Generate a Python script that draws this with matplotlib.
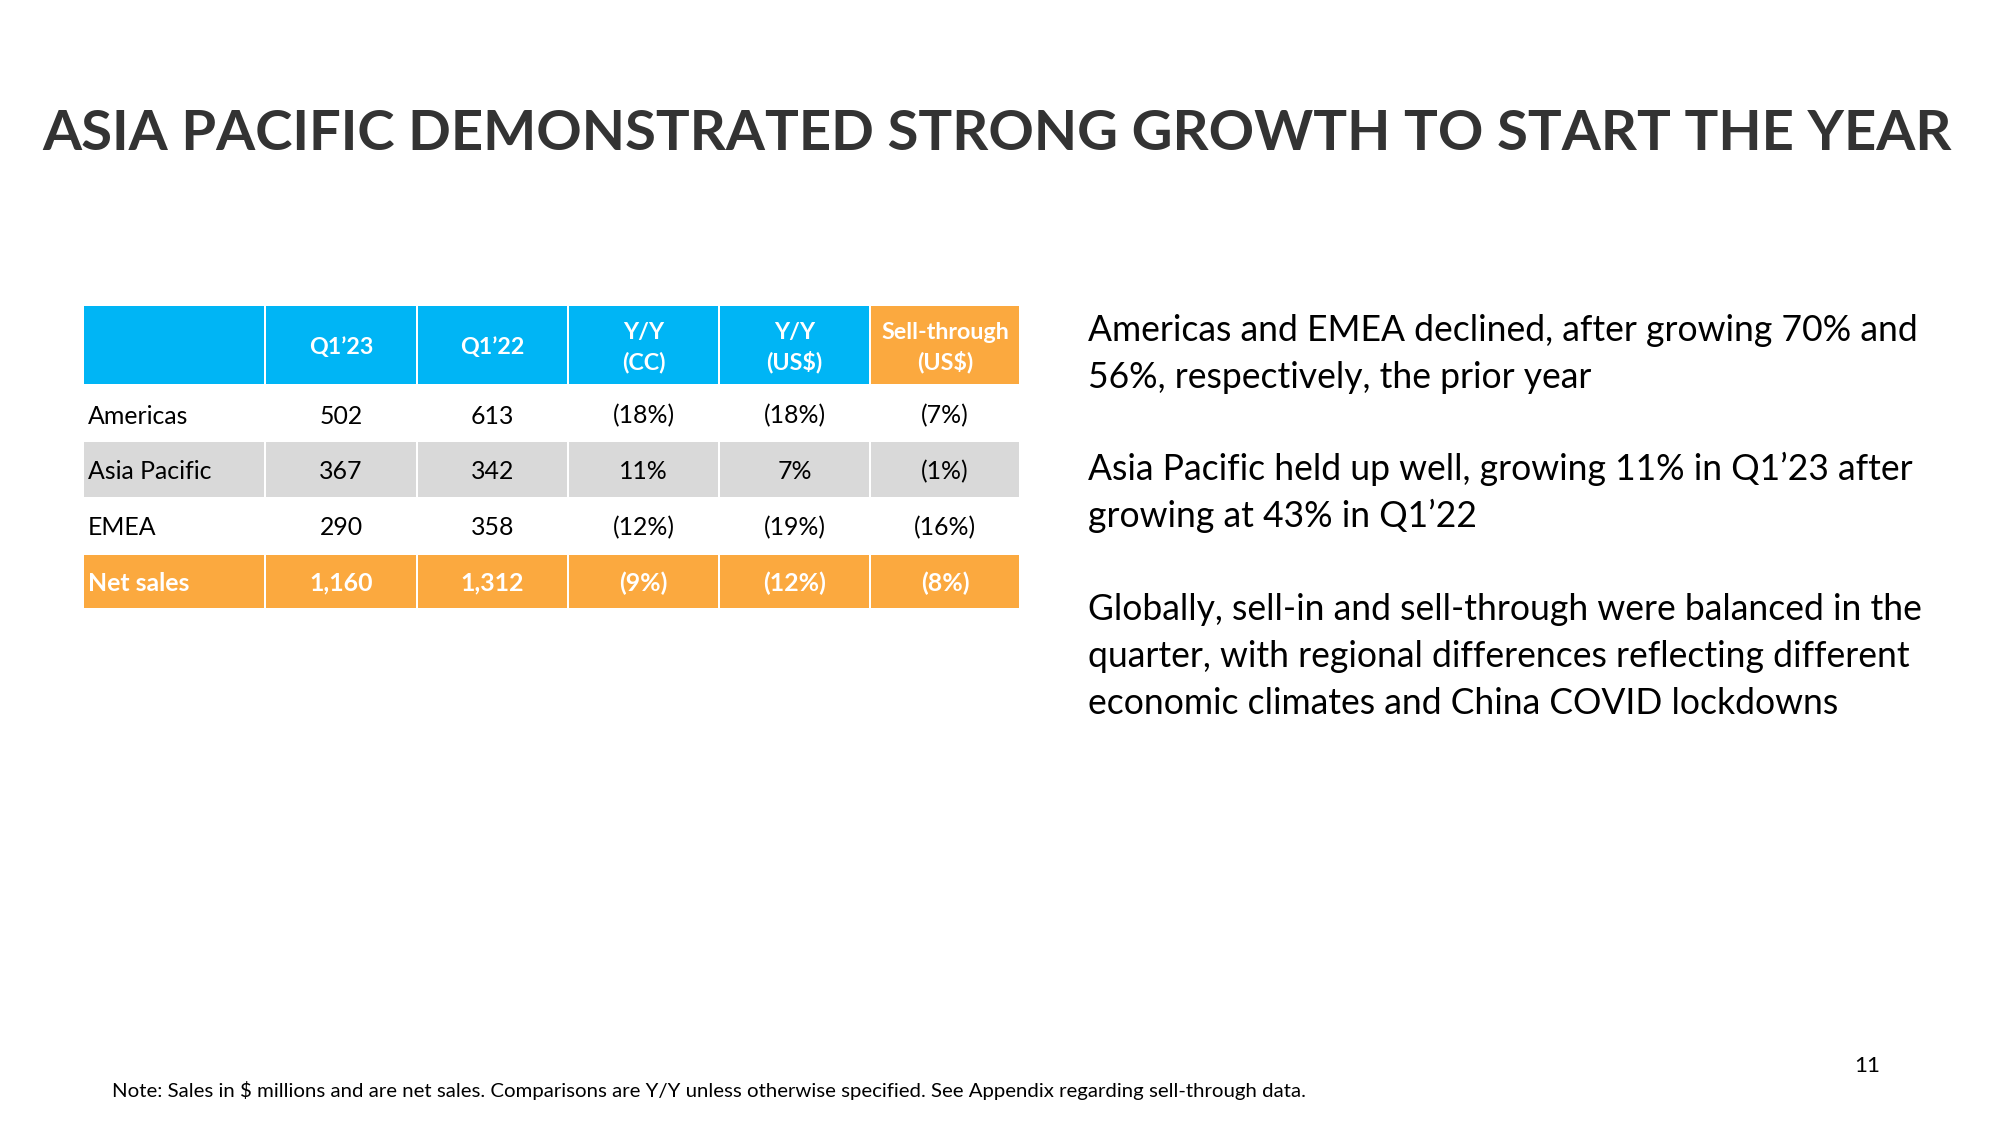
import matplotlib
matplotlib.use("Agg")
import matplotlib.pyplot as plt
from matplotlib.patches import Rectangle

# ---------------- data ----------------
title = "ASIA PACIFIC DEMONSTRATED STRONG GROWTH TO START THE YEAR"
header_lines = [[""], ["Q1\u201923"], ["Q1\u201922"], ["Y/Y", "(CC)"], ["Y/Y", "(US$)"], ["Sell-through", "(US$)"]]
regions = ["Americas", "Asia Pacific", "EMEA", "Net sales"]
q1_23 = [502, 367, 290, 1160]
q1_22 = [613, 342, 358, 1312]
yy_cc = [-18, 11, -12, -9]
yy_usd = [-18, 7, -19, -12]
sell_through = [-7, -1, -16, -8]
bullets = [
    ["Americas and EMEA declined, after growing 70% and",
     "56%, respectively, the prior year"],
    ["Asia Pacific held up well, growing 11% in Q1\u201923 after",
     "growing at 43% in Q1\u201922"],
    ["Globally, sell-in and sell-through were balanced in the",
     "quarter, with regional differences reflecting different",
     "economic climates and China COVID lockdowns"],
]
footnote = ("Note: Sales in $ millions and are net sales. Comparisons are Y/Y unless "
            "otherwise specified. See Appendix regarding sell-through data.")
page_number = "11"

# ---------------- style ----------------
BLUE = "#00B5F5"
ORANGE = "#FBA93F"
GREY = "#D9D9D9"
TITLE_C = "#333333"
FONT = ["Lato", "DejaVu Sans"]

fig = plt.figure(figsize=(20, 11.25), dpi=100)
ax = fig.add_axes([0, 0, 1, 1])
ax.set_xlim(0, 2000)
ax.set_ylim(1125, 0)
ax.axis("off")
renderer = fig.canvas.get_renderer()


def txt(x, y, s, size, **kw):
    kw.setdefault("family", FONT)
    kw.setdefault("va", "baseline")
    return ax.text(x, y, s, fontsize=size, parse_math=False, **kw)


def fit_size(s, target_w, weight="normal"):
    t = txt(0, 0, s, 20, weight=weight)
    w = t.get_window_extent(renderer).width
    t.remove()
    return 20 * target_w / w


# title
ts = fit_size(title, 1908, "bold")
txt(42.5, 150, title, ts, weight="bold", color=TITLE_C, ha="left")

# ---------------- table ----------------
col_edges = [83, 265, 417, 568, 719, 870, 1020]
row_edges = [306, 384, 441.7, 496.7, 555, 608]
row_fill = ["white", GREY, "white", ORANGE]
body_base = [423.5, 479.3, 535, 590.7]
gap = 1.0


def fmt_num(v):
    return f"{v:,}"


def fmt_pct(v):
    return f"({abs(v)}%)" if v < 0 else f"{v}%"


cells = [regions,
         [fmt_num(v) for v in q1_23],
         [fmt_num(v) for v in q1_22],
         [fmt_pct(v) for v in yy_cc],
         [fmt_pct(v) for v in yy_usd],
         [fmt_pct(v) for v in sell_through]]

hs = fit_size("Sell-through", 128, "bold")
bs = fit_size("Asia Pacific", 124)

# header
for c in range(6):
    x0, x1 = col_edges[c], col_edges[c + 1]
    fc = ORANGE if c == 5 else BLUE
    ax.add_patch(Rectangle((x0 + gap, row_edges[0]), x1 - x0 - 2 * gap,
                           row_edges[1] - row_edges[0], facecolor=fc, edgecolor="none"))
    lines = header_lines[c]
    xc = (x0 + x1) / 2
    if len(lines) == 1:
        if lines[0]:
            txt(xc, 354.3, lines[0], hs, weight="bold", color="white", ha="center")
    else:
        for ln, yb in zip(lines, [338.8, 369.8]):
            txt(xc, yb, ln, hs, weight="bold", color="white", ha="center")

# body rows
for r in range(4):
    y0, y1 = row_edges[r + 1], row_edges[r + 2]
    bold = (r == 3)
    color = "white" if bold else "black"
    for c in range(6):
        x0, x1 = col_edges[c], col_edges[c + 1]
        if row_fill[r] != "white":
            ax.add_patch(Rectangle((x0 + gap, y0), x1 - x0 - 2 * gap, y1 - y0,
                                   facecolor=row_fill[r], edgecolor="none"))
        s = cells[c][r]
        if c == 0:
            txt(x0 + 5, body_base[r], s, bs, weight="bold" if bold else "normal",
                color=color, ha="left")
        else:
            txt((x0 + x1) / 2, body_base[r], s, bs, weight="bold" if bold else "normal",
                color=color, ha="center")

# ---------------- right-hand text ----------------
ps = fit_size(bullets[0][0], 832)
bases = [[340.7, 387.5], [480, 527], [620, 667, 713.5]]
for para, bl in zip(bullets, bases):
    for ln, yb in zip(para, bl):
        txt(1087.5, yb, ln, ps, color="black", ha="left")

# ---------------- footer ----------------
fs = fit_size(footnote, 1196)
txt(112, 1097, footnote, fs, color="black", ha="left")
txt(1880, 1072, page_number, fs * 1.1, color="black", ha="right")

fig.savefig("out.png", dpi=100, facecolor="white")
